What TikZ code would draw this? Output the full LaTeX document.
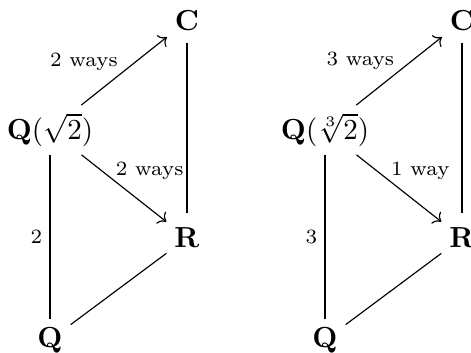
\documentclass[tikz,border=0pt]{standalone}
\usetikzlibrary{arrows.meta}
\begin{document}
\begin{tikzpicture}[x=0.3448pt,y=-0.3448pt,
  nd/.style={inner sep=2.6pt},
  lbl/.style={font=\scriptsize,inner sep=2.5pt},
  arr/.style={-{Computer Modern Rightarrow},line width=0.4pt},
  ln/.style={line width=0.4pt},
  vln/.style={line width=0.4pt,shorten <=1.5pt,shorten >=2.5pt}]
\useasboundingbox (0,0) rectangle (471,353);
% left diagram
\node[nd] (C1) at (187,21) {$\mathbf{C}$};
\node[nd] (K1) at (50,130) {$\mathbf{Q}(\sqrt{2})$};
\node[nd] (R1) at (187,238) {$\mathbf{R}$};
\node[nd] (Q1) at (50,340) {$\mathbf{Q}$};
\draw[arr] (K1) -- node[lbl,pos=0.5,anchor=south east,xshift=0.5pt,yshift=-2.6pt] {2 ways} (C1);
\draw[arr] (K1) -- node[lbl,pos=0.38,anchor=south west,xshift=-2pt,yshift=-2.4pt] {2 ways} (R1);
\draw[vln] (C1) -- (R1);
\draw[ln] (K1) -- node[lbl,midway,anchor=east] {2} (Q1);
\draw[ln] (R1) -- (Q1);
% right diagram
\node[nd] (C2) at (462,21) {$\mathbf{C}$};
\node[nd] (K2) at (325,130) {$\mathbf{Q}(\sqrt[3]{2})$};
\node[nd] (R2) at (462,238) {$\mathbf{R}$};
\node[nd] (Q2) at (325,340) {$\mathbf{Q}$};
\draw[arr] (K2) -- node[lbl,pos=0.5,anchor=south east,xshift=1pt,yshift=-2.1pt] {3 ways} (C2);
\draw[arr] (K2) -- node[lbl,pos=0.42,anchor=south west,xshift=-3.1pt,yshift=-1.4pt] {1 way} (R2);
\draw[vln] (C2) -- (R2);
\draw[ln] (K2) -- node[lbl,midway,anchor=east] {3} (Q2);
\draw[ln] (R2) -- (Q2);
\end{tikzpicture}
\end{document}
